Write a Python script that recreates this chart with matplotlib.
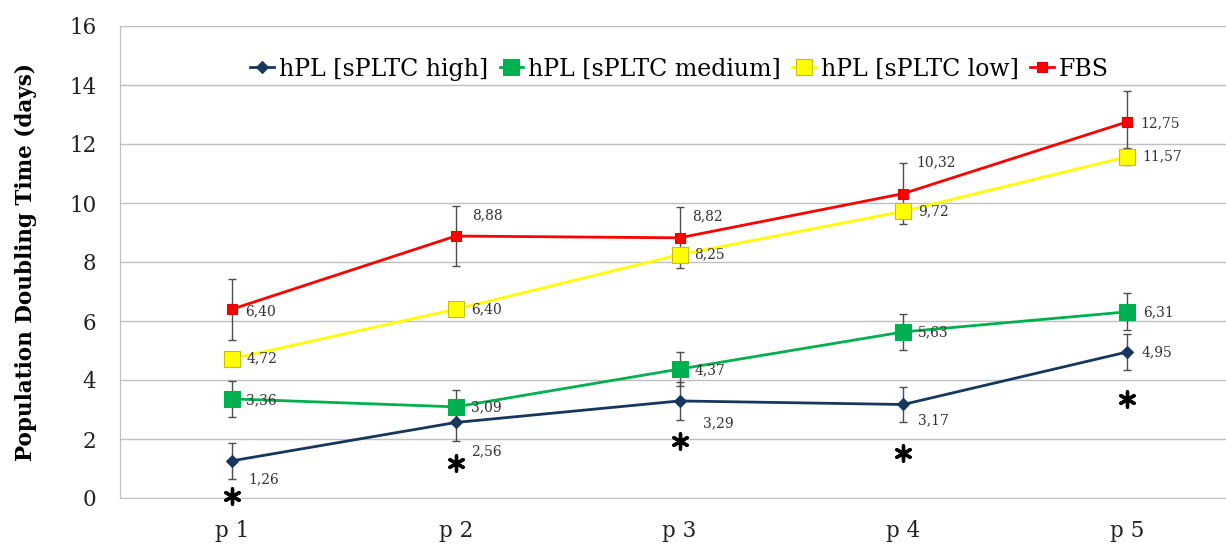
import matplotlib.pyplot as plt
import numpy as np

passages = ['p 1', 'p 2', 'p 3', 'p 4', 'p 5']

high = [1.26, 2.56, 3.29, 3.17, 4.95]
high_sd = [0.60, 0.62, 0.64, 0.60, 0.60]
medium = [3.36, 3.09, 4.37, 5.63, 6.31]
medium_sd = [0.60, 0.58, 0.57, 0.62, 0.63]
low = [4.72, 6.40, 8.25, 9.72, 11.57]
low_sd = [0.23, 0.20, 0.20, 0.20, 0.28]
fbs = [6.40, 8.88, 8.82, 10.32, 12.75]
fbs_sd = [1.03, 1.02, 1.04, 1.04, 1.03]

# significance marks (*) under the high series
star_y = [0.07, 1.19, 1.94, 1.53, 3.37]

plt.rcParams['font.family'] = 'DejaVu Serif'

fig = plt.figure(figsize=(12.26, 5.5), dpi=100)
ax = fig.add_axes([120 / 1226, 52 / 550, 1119 / 1226, 472 / 550])
x = np.arange(len(passages))

series = [
    ('hPL [sPLTC high]', high, high_sd, '#17375E', 'D', 6, '#17375E',
     [(16, -18), (15, -29), (23, -22), (15, -16), (14, 0)]),
    ('hPL [sPLTC medium]', medium, medium_sd, '#00B050', 's', 11, '#00B050',
     [(14, -1), (15, 0), (15, -1), (15, 0), (16, 0)]),
    ('hPL [sPLTC low]', low, low_sd, '#FFFF00', 's', 11, '#C8C000',
     [(15, 0), (15, 0), (15, 0), (15, 0), (15, 0)]),
    ('FBS', fbs, fbs_sd, '#FF0000', 's', 7, '#E00000',
     [(13, -2), (16, 21), (13, 22), (13, 31), (13, -1)]),
]

for name, vals, sd, col, mk, ms, ec, offs in series:
    ax.errorbar(x, vals, yerr=sd, fmt='none', ecolor='#4D4D4D', elinewidth=1,
                capsize=3, capthick=1, zorder=2)
    ax.plot(x, vals, color=col, lw=2, marker=mk, markersize=ms,
            markerfacecolor=col, markeredgecolor=ec, markeredgewidth=0.8,
            label=name, zorder=3)
    for xi, v, o in zip(x, vals, offs):
        ax.annotate(f'{v:.2f}'.replace('.', ','), (xi, v), xytext=o,
                    textcoords='offset pixels', fontsize=10, color='#333333',
                    ha='left', va='center', zorder=4)

ax.scatter(x, star_y, marker=(6, 2, 0), s=120, color='black', linewidths=2.4,
           zorder=4, clip_on=False)

ax.set_xlim(-0.5, 4.5)
ax.set_ylim(0, 16)
ax.set_yticks(range(0, 17, 2))
ax.set_xticks(x)
ax.set_xticklabels(passages)
ax.grid(axis='y', color='#BFBFBF', lw=1)
ax.set_axisbelow(True)
for s in ['left', 'top', 'bottom']:
    ax.spines[s].set_color('#BFBFBF')
ax.spines['right'].set_visible(False)
ax.tick_params(axis='both', length=0, labelsize=15.5, colors='#222222')
ax.tick_params(axis='y', pad=17)
ax.tick_params(axis='x', pad=16)
ax.set_ylabel('Population Doubling Time (days)', fontsize=15.5, fontweight='bold')
ax.yaxis.set_label_coords(-83 / 1119, 0.5)

ax.legend(loc='upper center', bbox_to_anchor=(0.5, 0.978), ncol=4, frameon=False,
          fontsize=17, handlelength=1.0, handletextpad=0.2, columnspacing=0.5)

fig.savefig('out.png', dpi=100)
